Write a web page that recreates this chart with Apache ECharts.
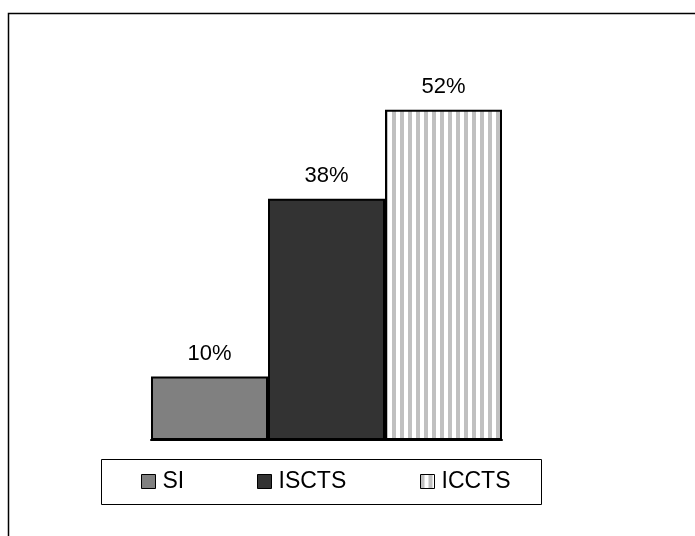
<!DOCTYPE html>
<html>
<head>
<meta charset="utf-8">
<script src="https://cdn.jsdelivr.net/npm/echarts@6/dist/echarts.min.js"></script>
<style>
  html, body { margin: 0; padding: 0; background: #fff; }
  #chart { width: 695px; height: 536px; }
</style>
</head>
<body>
<div id="chart"></div>
<script>
// Share of each group, in percent
const groups = ['SI', 'ISCTS', 'ICCTS'];
const shares = [10, 38, 52];
const legendLeft = [141, 257, 420];

// Vertical stripe fill for the third bar
function stripePattern() {
  const c = document.createElement('canvas');
  c.width = 8; c.height = 8;
  const ctx = c.getContext('2d');
  ctx.fillStyle = '#ffffff';
  ctx.fillRect(0, 0, 8, 8);
  ctx.fillStyle = '#c0c0c0';
  ctx.fillRect(0, 0, 4, 8);
  return c;
}

const fills = ['#808080', '#333333', { image: stripePattern(), imageWidth: 8, imageHeight: 8, repeat: 'repeat' }];
const font = '"Liberation Sans", Arial, sans-serif';

const chart = echarts.init(document.getElementById('chart'), null, { renderer: 'canvas' });

chart.setOption({
  animation: false,
  backgroundColor: '#ffffff',
  textStyle: { fontFamily: font },
  grid: { left: 151, width: 351, top: 59, height: 381 },
  xAxis: {
    type: 'category',
    data: [''],
    axisLine: { show: true, lineStyle: { color: '#000', width: 2 } },
    axisTick: { show: false },
    axisLabel: { show: false }
  },
  yAxis: {
    type: 'value',
    min: 0,
    max: 60,
    show: false,
    splitLine: { show: false }
  },
  legend: groups.map((g, i) => ({
    data: [{ name: g, icon: 'rect' }],
    left: legendLeft[i],
    top: 470,
    padding: 0,
    itemWidth: 14,
    itemHeight: 14,
    itemGap: 0,
    selectedMode: false,
    itemStyle: { borderColor: '#000', borderWidth: 1 },
    textStyle: { fontFamily: font, fontSize: 23, color: '#000', padding: [0, 0, 0, 2] }
  })),
  graphic: [
    {
      type: 'rect',
      shape: { x: 8.5, y: 13.5, width: 900, height: 900 },
      style: { fill: 'none', stroke: '#000', lineWidth: 1.5 },
      z: 0
    },
    {
      type: 'rect',
      shape: { x: 101.5, y: 459.5, width: 440, height: 45 },
      style: { fill: '#fff', stroke: '#000', lineWidth: 1 },
      z: 0
    }
  ],
  series: groups.map((g, i) => ({
    name: g,
    type: 'bar',
    data: [shares[i]],
    barWidth: 117,
    barGap: '0%',
    itemStyle: { color: fills[i], borderColor: '#000', borderWidth: 2 },
    label: {
      show: true,
      position: 'top',
      distance: 12,
      formatter: '{c}%',
      fontFamily: font,
      fontSize: 22,
      color: '#000'
    },
    z: 3
  }))
});
</script>
</body>
</html>
